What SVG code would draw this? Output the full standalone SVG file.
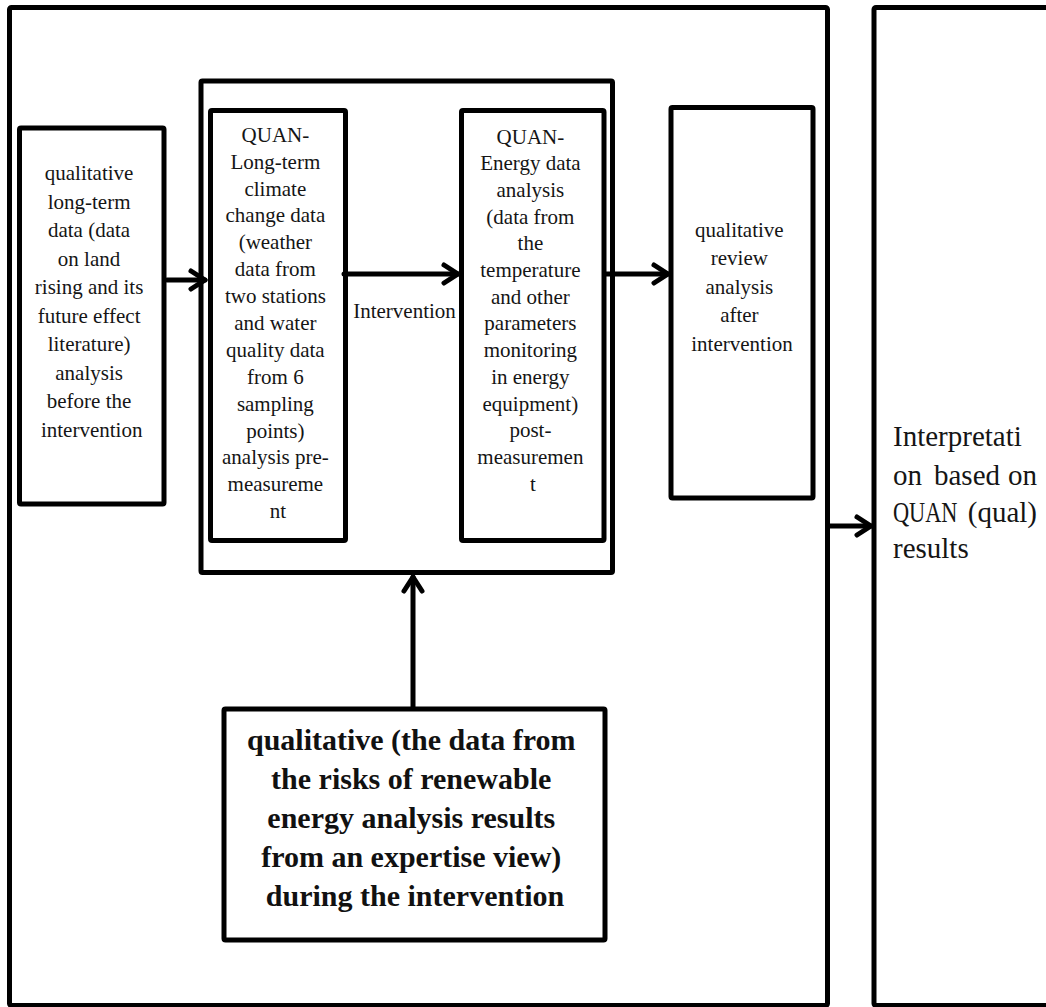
<svg xmlns="http://www.w3.org/2000/svg" width="1046" height="1007" viewBox="0 0 1046 1007">
<style>
.box{fill:none;stroke:#000;stroke-width:5;stroke-linejoin:round}
.t{font-family:"Liberation Serif","Times New Roman",serif;font-size:21px;fill:#151515;text-anchor:middle}
.tb{font-family:"Liberation Serif","Times New Roman",serif;font-size:30px;font-weight:bold;fill:#111;text-anchor:middle}
.tr{font-family:"Liberation Serif","Times New Roman",serif;font-size:29px;fill:#151515}
.c{fill:none;stroke:#000;stroke-width:5;stroke-linecap:round;stroke-linejoin:round}
</style>
<defs>
<marker id="ah" markerUnits="userSpaceOnUse" markerWidth="30" markerHeight="30" viewBox="-20 -15 30 30" refX="0" refY="0" orient="auto">
<path d="M-14,-9 L0,0 L-14,9" fill="none" stroke="#000" stroke-width="5" stroke-linecap="round" stroke-linejoin="round"/>
</marker>
</defs>
<rect width="1046" height="1007" fill="#fff"/>

<g id="outer-frame">
<rect class="box" x="9.5" y="7.5" width="818" height="998" rx="2"/>
</g>

<g id="interpretation">
<rect class="box" x="874" y="7.5" width="200" height="998" rx="2"/>
<text class="tr" x="893" y="446">Interpretati</text>
<text class="tr" x="893" y="485">on</text>
<text class="tr" x="967" y="485" text-anchor="middle">based</text>
<text class="tr" x="1037" y="485" text-anchor="end">on</text>
<text class="tr" transform="translate(893 522) scale(0.77 1)">QUAN</text>
<text class="tr" x="1037" y="522" text-anchor="end">(qual)</text>
<text class="tr" x="893" y="558">results</text>
</g>

<g id="qual-before">
<rect class="box" x="19.5" y="128" width="144.5" height="376" rx="1.5"/>
<text class="t" x="91.7" y="180">
<tspan x="91.7" dy="0">qualitative</tspan>
<tspan x="91.7" dy="28.5">long-term</tspan>
<tspan x="91.7" dy="28.5">data (data</tspan>
<tspan x="91.7" dy="28.5">on land</tspan>
<tspan x="91.7" dy="28.5">rising and its</tspan>
<tspan x="91.7" dy="28.5">future effect</tspan>
<tspan x="91.7" dy="28.5">literature)</tspan>
<tspan x="91.7" dy="28.5">analysis</tspan>
<tspan x="91.7" dy="28.5">before the</tspan>
<tspan x="91.7" dy="28.5">intervention</tspan>
</text>
</g>

<g id="quan-container">
<rect class="box" x="201" y="81" width="411.5" height="491.5" rx="1.5"/>
</g>

<g id="quan-climate">
<rect class="box" x="210.5" y="110.5" width="135" height="430" rx="1.5"/>
<text class="t" x="278" y="141.7">
<tspan x="278" dy="0">QUAN-</tspan>
<tspan x="278" dy="26.9">Long-term</tspan>
<tspan x="278" dy="26.9">climate</tspan>
<tspan x="278" dy="26.9">change data</tspan>
<tspan x="278" dy="26.9">(weather</tspan>
<tspan x="278" dy="26.9">data from</tspan>
<tspan x="278" dy="26.9">two stations</tspan>
<tspan x="278" dy="26.9">and water</tspan>
<tspan x="278" dy="26.9">quality data</tspan>
<tspan x="278" dy="26.9">from 6</tspan>
<tspan x="278" dy="26.9">sampling</tspan>
<tspan x="278" dy="26.9">points)</tspan>
<tspan x="278" dy="26.9">analysis pre-</tspan>
<tspan x="278" dy="26.9">measureme</tspan>
<tspan x="278" dy="26.9">nt</tspan>
</text>
</g>

<g id="quan-energy">
<rect class="box" x="461.5" y="110.5" width="142.5" height="430" rx="1.5"/>
<text class="t" x="533" y="143.5">
<tspan x="533" dy="0">QUAN-</tspan>
<tspan x="533" dy="26.7">Energy data</tspan>
<tspan x="533" dy="26.7">analysis</tspan>
<tspan x="533" dy="26.7">(data from</tspan>
<tspan x="533" dy="26.7">the</tspan>
<tspan x="533" dy="26.7">temperature</tspan>
<tspan x="533" dy="26.7">and other</tspan>
<tspan x="533" dy="26.7">parameters</tspan>
<tspan x="533" dy="26.7">monitoring</tspan>
<tspan x="533" dy="26.7">in energy</tspan>
<tspan x="533" dy="26.7">equipment)</tspan>
<tspan x="533" dy="26.7">post-</tspan>
<tspan x="533" dy="26.7">measuremen</tspan>
<tspan x="533" dy="26.7">t</tspan>
</text>
</g>

<g id="qual-after">
<rect class="box" x="671" y="107.5" width="142" height="390.5" rx="1.5"/>
<text class="t" x="742" y="236.7">
<tspan x="742" dy="0">qualitative</tspan>
<tspan x="742" dy="28.5">review</tspan>
<tspan x="742" dy="28.5">analysis</tspan>
<tspan x="742" dy="28.5">after</tspan>
<tspan x="742" dy="28.5">intervention</tspan>
</text>
</g>

<g id="qual-during">
<rect class="box" x="224" y="709" width="381" height="231" rx="1.5"/>
<text class="tb" x="415" y="749.5">
<tspan x="415" dy="0">qualitative (the data from</tspan>
<tspan x="415" dy="39">the risks of renewable</tspan>
<tspan x="415" dy="39">energy analysis results</tspan>
<tspan x="415" dy="39">from an expertise view)</tspan>
<tspan x="415" dy="39">during the intervention</tspan>
</text>
</g>

<g id="connectors">
<line class="c" x1="167" y1="280" x2="205" y2="280" marker-end="url(#ah)"/>
<line class="c" x1="344" y1="274" x2="458" y2="274" marker-end="url(#ah)"/>
<line class="c" x1="606" y1="274" x2="668" y2="274" marker-end="url(#ah)"/>
<line class="c" x1="830" y1="526" x2="871" y2="526" marker-end="url(#ah)"/>
<line class="c" x1="413" y1="708" x2="413" y2="577" marker-end="url(#ah)"/>
<text class="t" x="404.5" y="318">Intervention</text>
</g>
</svg>
